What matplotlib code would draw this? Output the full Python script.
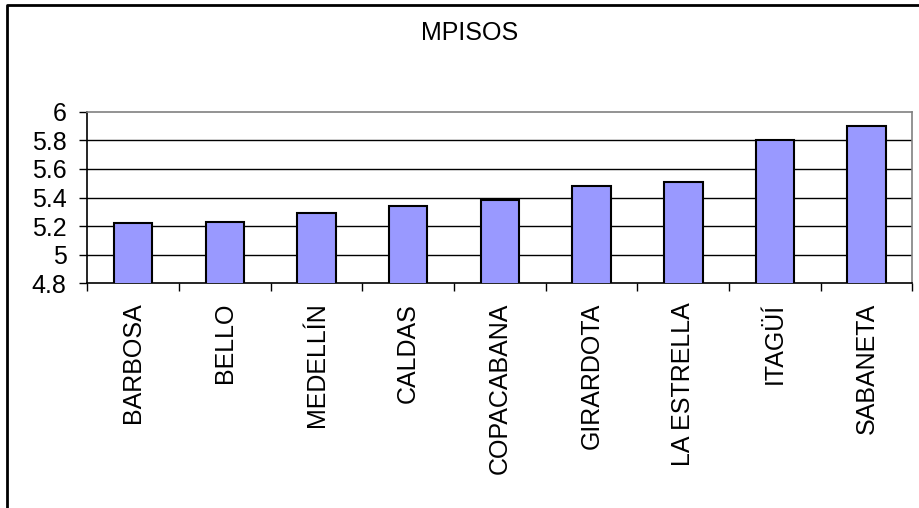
import matplotlib
matplotlib.use("Agg")
import matplotlib.pyplot as plt
from matplotlib.lines import Line2D
import numpy as np

categories = ["BARBOSA", "BELLO", "MEDELLÍN", "CALDAS", "COPACABANA",
              "GIRARDOTA", "LA ESTRELLA", "ITAGÜÍ", "SABANETA"]
values = [5.22, 5.23, 5.29, 5.34, 5.38, 5.48, 5.51, 5.80, 5.90]
y_ticks = [4.8, 5.0, 5.2, 5.4, 5.6, 5.8, 6.0]
y_tick_labels = ["4.8", "5", "5.2", "5.4", "5.6", "5.8", "6"]
title = "MPISOS"

plt.rcParams["font.family"] = ["Liberation Sans", "DejaVu Sans"]

W, H = 920, 508
fig = plt.figure(figsize=(W / 100, H / 100), dpi=100)
fig.patch.set_facecolor("white")

left, right, top, bottom = 87.3, 912.5, 111.7, 283.3
ax = fig.add_axes([left / W, 1 - bottom / H, (right - left) / W, (bottom - top) / H])

x = np.arange(len(categories))
ax.bar(x, values, width=0.42, bottom=0, color="#9999FF",
       edgecolor="black", linewidth=1.5, zorder=3)

ax.set_ylim(4.8, 6.0)
ax.set_xlim(-0.5, len(categories) - 0.5)

ax.set_yticks(y_ticks)
ax.set_yticklabels(y_tick_labels, fontsize=18)
for yv in y_ticks[1:-1]:
    ax.axhline(yv, color="black", linewidth=1.0, zorder=1)

# category labels centred under bars, tick marks on category boundaries
ax.set_xticks(x)
ax.set_xticklabels(categories, rotation=90, fontsize=18, va="top", ha="center")
ax.tick_params(axis="x", which="major", length=0, pad=14)
ax.set_xticks(np.arange(len(categories) + 1) - 0.5, minor=True)
ax.tick_params(axis="x", which="minor", length=6, width=1, color="black", direction="out")
ax.tick_params(axis="y", length=6, width=1, pad=9, direction="out")

for side in ["top", "right"]:
    ax.spines[side].set_color("#808080")
    ax.spines[side].set_linewidth(1.2)
for side in ["left", "bottom"]:
    ax.spines[side].set_color("black")
    ax.spines[side].set_linewidth(1.2)

fig.text(469.5 / W, 1 - 33 / H, title, fontsize=18, ha="center", va="center")

# outer chart frame (left and top edges)
fx = 7.5 / W
fy = 1 - 4.5 / H
fig.add_artist(Line2D([fx, fx, 1.0], [0.0, fy, fy], transform=fig.transFigure,
                      color="black", linewidth=2.0))

fig.savefig("out.png", dpi=100)
